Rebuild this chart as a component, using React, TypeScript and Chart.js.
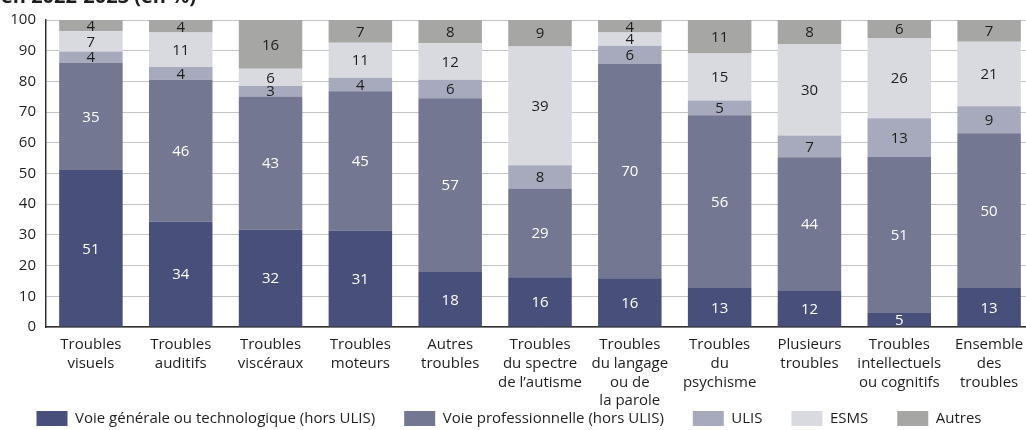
import React, { useEffect, useRef } from "react";
import { Chart, registerables } from "chart.js";

Chart.register(...registerables);

const categories: string[][] = [
  ["Troubles", "visuels"],
  ["Troubles", "auditifs"],
  ["Troubles", "viscéraux"],
  ["Troubles", "moteurs"],
  ["Autres", "troubles"],
  ["Troubles", "du spectre", "de l’autisme"],
  ["Troubles", "du langage", "ou de", "la parole"],
  ["Troubles", "du", "psychisme"],
  ["Plusieurs", "troubles"],
  ["Troubles", "intellectuels", "ou cognitifs"],
  ["Ensemble", "des", "troubles"],
];

const voieGenerale = [51.1, 34.3, 31.7, 31.4, 17.9, 16.2, 15.9, 12.7, 11.7, 4.6, 12.7];
const voiePro = [35.0, 46.2, 43.4, 45.4, 56.6, 28.9, 69.8, 56.3, 43.6, 50.8, 50.4];
const ulis = [3.6, 4.2, 3.4, 4.4, 6.0, 7.6, 5.9, 4.8, 7.1, 12.6, 8.8];
const esms = [6.6, 11.2, 5.6, 11.4, 11.9, 38.7, 4.3, 15.3, 29.8, 26.1, 21.0];
const autres = [3.7, 4.1, 15.9, 7.4, 7.6, 8.6, 4.1, 10.9, 7.8, 5.9, 7.1];

const seriesNames = [
  "Voie générale ou technologique (hors ULIS)",
  "Voie professionnelle (hors ULIS)",
  "ULIS",
  "ESMS",
  "Autres",
];
const seriesColors = ["#474f7a", "#737791", "#a7aabc", "#d8dadf", "#a6a6a4"];
const labelColors = ["#ffffff", "#ffffff", "#1e1e1e", "#1e1e1e", "#1e1e1e"];

const yTicks = [0, 10, 20, 30, 40, 50, 60, 70, 80, 90, 100];

const FONT = "'Open Sans', sans-serif";

const dataLabels = {
  id: "dataLabels",
  afterDatasetsDraw(chart: any) {
    const ctx = chart.ctx;
    ctx.save();
    ctx.font = `15px ${FONT}`;
    ctx.textAlign = "center";
    ctx.textBaseline = "middle";
    chart.data.datasets.forEach((ds: any, di: number) => {
      const meta = chart.getDatasetMeta(di);
      meta.data.forEach((bar: any, i: number) => {
        const v = ds.data[i] as number;
        const p = bar.getProps(["x", "y", "base"], true);
        ctx.fillStyle = labelColors[di];
        ctx.fillText(String(Math.round(v)), p.x, (p.y + p.base) / 2 + 1);
      });
    });
    ctx.restore();
  },
};

const shiftLegend = {
  id: "shiftLegend",
  afterLayout(chart: any) {
    const l = chart.legend;
    if (l) {
      l.left -= 8;
      l.right -= 8;
    }
  },
};

export default function App() {
  const ref = useRef<HTMLCanvasElement | null>(null);

  useEffect(() => {
    if (!ref.current) return;
    Chart.defaults.font.family = FONT;
    const series = [voieGenerale, voiePro, ulis, esms, autres];
    const chart = new Chart(ref.current, {
      type: "bar",
      data: {
        labels: categories,
        datasets: series.map((d, i) => ({
          label: seriesNames[i],
          data: d,
          backgroundColor: seriesColors[i],
          borderWidth: 0,
          barPercentage: 0.707,
          categoryPercentage: 1,
        })),
      },
      options: {
        responsive: false,
        animation: false,
        layout: { padding: { top: 20, left: 0, right: 0, bottom: 0 } },
        plugins: {
          tooltip: { enabled: false },
          legend: {
            position: "bottom",
            maxHeight: 48,
            labels: {
              boxWidth: 31,
              boxHeight: 15,
              padding: 29,
              color: "#1e1e1e",
              font: { size: 15, family: FONT },
            },
          },
        },
        scales: {
          x: {
            stacked: true,
            grid: { display: false, drawTicks: false },
            border: { display: true, color: "#333333", width: 1.5 },
            ticks: {
              color: "#1e1e1e",
              padding: 8,
              maxRotation: 0,
              autoSkip: false,
              font: { size: 15, family: FONT, lineHeight: 1.26 },
            },
            afterFit(scale: any) {
              scale.height = 55;
              // let multi-line labels extend below the (shortened) axis box
              scale._computeLabelArea = () => undefined;
            },
          },
          y: {
            stacked: true,
            min: 0,
            max: 100,
            afterBuildTicks(scale: any) {
              scale.ticks = yTicks.map((v) => ({ value: v }));
            },
            grid: { color: "#c4c4c4", lineWidth: 1, drawTicks: false },
            border: { display: true, color: "#333333", width: 1.5 },
            ticks: {
              color: "#1e1e1e",
              padding: 10,
              font: { size: 15, family: FONT },
            },
            afterFit(scale: any) {
              scale.width = 46;
            },
          },
        },
      },
      plugins: [dataLabels, shiftLegend],
    });
    return () => chart.destroy();
  }, []);

  return (
    <div
      style={{
        position: "absolute",
        left: 0,
        top: 0,
        width: 1026,
        height: 430,
        overflow: "hidden",
        background: "#ffffff",
      }}
    >
      <div style={{ position: "absolute", left: 0, top: 0, width: 1034, height: 430 }}>
        <canvas ref={ref} width={1034} height={430} />
      </div>
      <div
        style={{
          position: "absolute",
          left: 1,
          top: -14.5,
          fontFamily: FONT,
          fontWeight: 700,
          fontSize: 20,
          lineHeight: "20px",
          color: "#1e1e1e",
          whiteSpace: "nowrap",
        }}
      >
        en 2022-2023 (en %)
      </div>
    </div>
  );
}
